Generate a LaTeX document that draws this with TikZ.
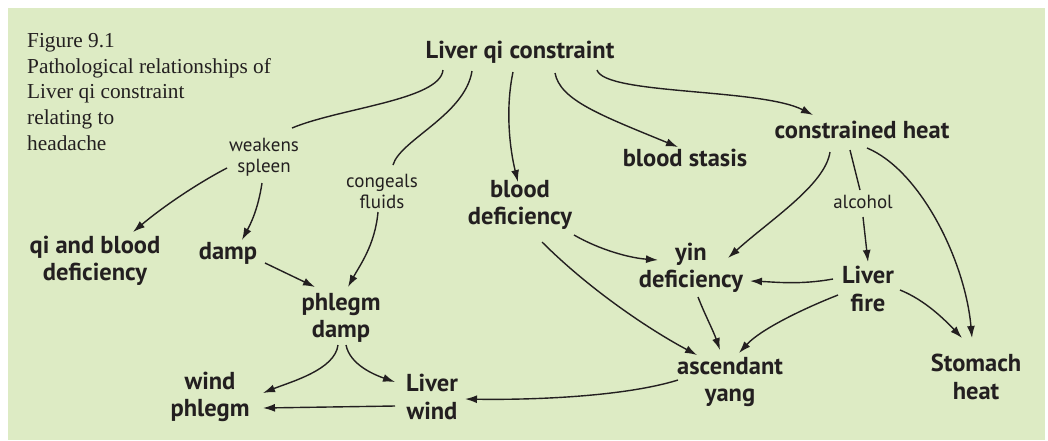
\documentclass[tikz,border=0pt]{standalone}
\usepackage{fontspec}
\setmainfont{Liberation Serif}
\newfontfamily\diagfont{PT Sans}
\usetikzlibrary{arrows.meta}
\definecolor{panel}{RGB}{221,235,196}
\definecolor{ink}{RGB}{35,31,32}
\tikzset{
  box/.style={font=\diagfont\bfseries\fontsize{24.5}{27.5}\selectfont, align=center, inner sep=0pt, text=ink},
  lab/.style={font=\diagfont\fontsize{19}{21}\selectfont, align=center, inner sep=0pt, text=ink},
  arr/.style={draw=ink, line width=1.4pt, -{Latex[length=12pt,width=8pt]}},
  ln/.style={draw=ink, line width=1.4pt},
}
\begin{document}
\begin{tikzpicture}[x=1pt,y=-1pt]
\useasboundingbox (0,0) rectangle (1048,440);
\fill[white] (0,0) rectangle (1048,440);
\fill[panel] (8,8) rectangle (1045,440);
\node[anchor=north west, inner sep=0pt, align=left, text=ink, font=\fontsize{21.3}{25.7}\selectfont] (cap) at (27,33)
 {Figure 9.1\\Pathological relationships of\\Liver qi constraint\\relating to\\headache};
\node[box] (lqc) at (520,52) {Liver qi constraint};
\node[box] (stasis) at (685,158) {blood stasis};
\node[box] (heat) at (862,130) {constrained heat};
\node[box] (bdef) at (520,205) {blood\\deficiency};
\node[box] (qbd) at (95,261) {qi and blood\\deficiency};
\node[box] (damp) at (228,253) {damp};
\node[box] (pd) at (341,318) {phlegm\\damp};
\node[box] (wp) at (210,397) {wind\\phlegm};
\node[box] (lw) at (432,397) {Liver\\wind};
\node[box] (ay) at (730,382) {ascendant\\yang};
\node[box] (yin) at (691,268) {yin\\deficiency};
\node[box] (lf) at (868,289) {Liver\\fire};
\node[box] (sh) at (976,377) {Stomach\\heat};
\node[lab] (weak) at (264,157) {weakens\\spleen};
\node[lab] (cong) at (382,191) {congeals\\fluids};
\node[lab] (alc) at (863,202) {alcohol};
% connectors
\draw[ln] ([shift={(-77,18)}]lqc.center) .. controls (440,100) and (340,108) .. ([shift={(28,-29)}]weak.center);
\draw[arr] ([shift={(-37,11)}]weak.center) .. controls (200,182) and (165,205) .. ([shift={(38,-29)}]qbd.center);
\draw[arr] ([shift={(-2,26)}]weak.center) .. controls (258,210) and (250,225) .. ([shift={(14,-13)}]damp.center);
\draw[ln] ([shift={(-48,19)}]lqc.center) .. controls (465,115) and (400,140) .. ([shift={(11,-26)}]cong.center);
\draw[arr] ([shift={(-4,21)}]cong.center) .. controls (375,245) and (360,265) .. ([shift={(7,-31)}]pd.center);
\draw[arr] ([shift={(-7,20)}]lqc.center) .. controls (505,110) and (510,150) .. ([shift={(-2,-23)}]bdef.center);
\draw[arr] ([shift={(35,21)}]lqc.center) .. controls (560,100) and (600,115) .. ([shift={(-7,-11)}]stasis.center);
\draw[arr] ([shift={(77,18)}]lqc.center) .. controls (605,95) and (760,88) .. ([shift={(-49,-15)}]heat.center);
\draw[arr] ([shift={(37,10)}]damp.center) -- ([shift={(-26,-31)}]pd.center);
\draw[arr] ([shift={(-3,27)}]pd.center) .. controls (335,370) and (290,382) .. ([shift={(53,-4)}]wp.center);
\draw[arr] ([shift={(5,27)}]pd.center) .. controls (350,365) and (375,375) .. ([shift={(-37,-15)}]lw.center);
\draw[arr] ([shift={(-37,9)}]lw.center) -- ([shift={(53,11)}]wp.center);
\draw[arr] ([shift={(-52,-2)}]ay.center) .. controls (620,398) and (520,400) .. ([shift={(33,2)}]lw.center);
\draw[arr] ([shift={(54,30)}]bdef.center) .. controls (600,250) and (630,258) .. ([shift={(-33,-8)}]yin.center);
\draw[arr] ([shift={(22,37)}]bdef.center) .. controls (590,290) and (650,330) .. ([shift={(-33,-27)}]ay.center);
\draw[arr] ([shift={(7,29)}]yin.center) .. controls (705,315) and (713,330) .. ([shift={(-10,-32)}]ay.center);
\draw[arr] ([shift={(-32,22)}]heat.center) .. controls (825,185) and (770,220) .. ([shift={(37,-10)}]yin.center);
\draw[ln] ([shift={(-12,20)}]heat.center) -- ([shift={(-3,-12)}]alc.center);
\draw[arr] ([shift={(0,15)}]alc.center) -- ([shift={(0,-27)}]lf.center);
\draw[arr] ([shift={(5,18)}]heat.center) .. controls (920,170) and (965,260) .. ([shift={(-4,-39)}]sh.center);
\draw[arr] ([shift={(-35,-10)}]lf.center) .. controls (800,285) and (775,282) .. ([shift={(59,13)}]yin.center);
\draw[arr] ([shift={(-30,6)}]lf.center) .. controls (800,310) and (760,330) .. ([shift={(9,-29)}]ay.center);
\draw[arr] ([shift={(32,1)}]lf.center) .. controls (925,300) and (945,320) .. ([shift={(-14,-39)}]sh.center);
\end{tikzpicture}
\end{document}
